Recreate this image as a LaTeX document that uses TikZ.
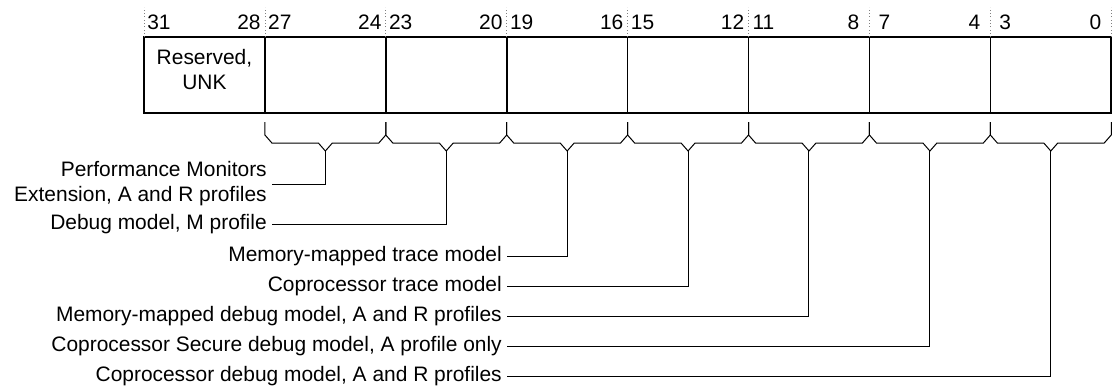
\documentclass[tikz,border=0pt]{standalone}
\usepackage{fontspec}
\setmainfont{Liberation Sans}
\usetikzlibrary{positioning,calc}

\begin{document}
\begin{tikzpicture}[x=0.75pt, y=-0.75pt,
  field/.style={rectangle, draw, line width=1.2pt, minimum width=90.68pt, minimum height=57pt, inner sep=0pt, outer sep=0pt},
  bitno/.style={inner sep=0pt, minimum width=17.5pt, font=\fontsize{15.7}{18.75}\selectfont},
  guide/.style={draw=gray, dotted, line width=0.5pt},
  brace/.style={line width=0.75pt},
  lead/.style={line width=0.75pt},
  lbl/.style={align=right, anchor=east, inner xsep=3.75pt, inner ysep=0pt, font=\fontsize{15.7}{18.75}\selectfont}]

\useasboundingbox (0,0) rectangle (1114,389);

% the register fields
\node[field] (f31) at (204.45,75) {};
\node[field, right=0pt of f31] (f27) {};
\node[field, right=0pt of f27] (f23) {};
\node[field, right=0pt of f23] (f19) {};
\node[field, right=0pt of f19] (f15) {};
\node[field, right=0pt of f15] (f11) {};
\node[field, right=0pt of f11] (f7) {};
\node[field, right=0pt of f7] (f3) {};

\node[align=center, font=\fontsize{15.7}{18.75}\selectfont] (rsv) at ($(f31.center)+(0,-5)$) {Reserved,\\UNK};

% bit numbers
\foreach \f/\hi/\lo in {f31/31/28, f27/27/24, f23/23/20, f19/19/16, f15/15/12, f11/11/8, f7/7/4, f3/3/0} {
  \node[bitno, anchor=west] at ($(\f.north west)+(3,-15)$) {\hi};
  \node[bitno, anchor=east] at ($(\f.north east)+(-4,-15)$) {\lo};
  \draw[guide] (\f.north west) -- ++(0,-30);
}
\draw[guide] (f3.north east) -- ++(0,-30);

% braces under the fields
\foreach \f in {f27, f23, f19, f15, f11, f7, f3} {
  \draw[brace] ($(\f.south west)+(0,9)$) -- ++(0,13) -- ++(7,8) -- ++(46.45,0) -- ++(7,8)
    -- ++(7,-8) -- ++(46.45,0) -- ++(7,-8) -- ++(0,-13);
  \coordinate (\f-tip) at ($(\f.south)+(0,38)$);
}

% field descriptions
\node[lbl] (pmu) at (272,184) {Performance Monitors\\Extension, A and R profiles};
\node[lbl] (mdbg) at (272,224) {Debug model, M profile};
\node[lbl] (mmtrc) at (507,256) {Memory-mapped trace model};
\node[lbl] (cptrc) at (507,286.5) {Coprocessor trace model};
\node[lbl] (mmdbg) at (507,316.5) {Memory-mapped debug model, A and R profiles};
\node[lbl] (secdbg) at (507,346.5) {Coprocessor Secure debug model, A profile only};
\node[lbl] (cpdbg) at (507,376.5) {Coprocessor debug model, A and R profiles};

\draw[lead] (pmu.east) -| (f27-tip);
\draw[lead] (mdbg.east) -| (f23-tip);
\draw[lead] (mmtrc.east) -| (f19-tip);
\draw[lead] (cptrc.east) -| (f15-tip);
\draw[lead] (mmdbg.east) -| (f11-tip);
\draw[lead] (secdbg.east) -| (f7-tip);
\draw[lead] (cpdbg.east) -| (f3-tip);
\end{tikzpicture}
\end{document}
